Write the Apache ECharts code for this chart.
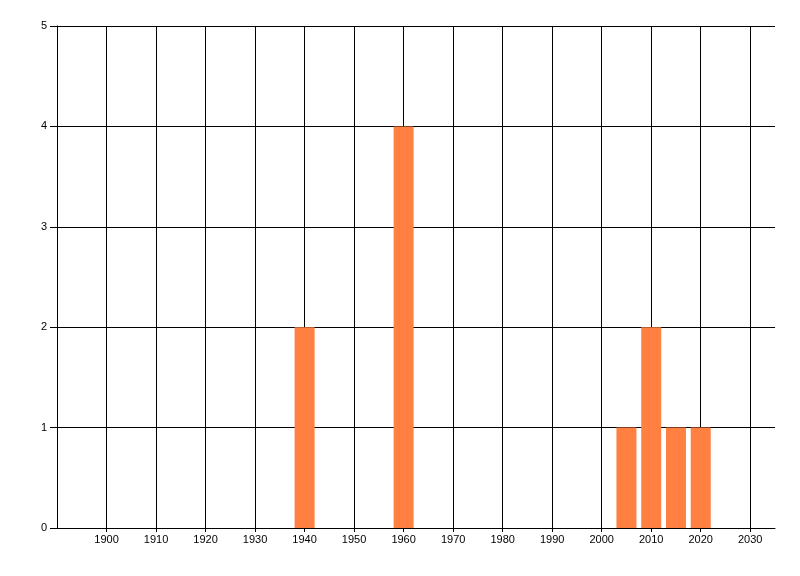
<!DOCTYPE html>
<html>
<head>
<meta charset="utf-8">
<script src="https://cdn.jsdelivr.net/npm/echarts@6/dist/echarts.min.js"></script>
<style>
  html, body { margin: 0; padding: 0; background: #fff; }
</style>
</head>
<body>
<div id="chart" style="width: 800px;height: 576px"></div>
<script>
const years = [1940, 1960, 2005, 2010, 2015, 2020]
const counts = [2, 4, 1, 2, 1, 1]
const yearTicks = [1900, 1910, 1920, 1930, 1940, 1950, 1960, 1970, 1980, 1990, 2000, 2010, 2020, 2030]

const chart = echarts.init(document.getElementById('chart'))
const option = {
  animation: false,
  grid: {
    left: 57,
    right: 25,
    top: 26,
    bottom: 48
  },
  xAxis: {
    type: 'value',
    min: 1890,
    max: 2035,
    interval: 10,
    axisLine: { show: true, lineStyle: { color: '#000', width: 1 } },
    axisTick: { show: true, length: 4, lineStyle: { color: '#000' }, customValues: yearTicks },
    axisLabel: {
      color: '#000',
      fontFamily: 'Liberation Sans',
      fontSize: 11,
      margin: 6,
      customValues: yearTicks,
      formatter: (v) => String(v)
    },
    splitLine: { show: true, showMinLine: true, showMaxLine: true, lineStyle: { color: '#000', width: 1 } }
  },
  yAxis: {
    type: 'value',
    min: 0,
    max: 5,
    interval: 1,
    axisLine: { show: true, lineStyle: { color: '#000', width: 1 } },
    axisTick: { show: true, length: 7, lineStyle: { color: '#000' } },
    axisLabel: {
      color: '#000',
      fontFamily: 'Liberation Sans',
      fontSize: 11,
      margin: 10
    },
    splitLine: { show: true, lineStyle: { color: '#000', width: 1 } }
  },
  series: [
    {
      type: 'bar',
      data: years.map((y, i) => [y, counts[i]]),
      barWidth: 20,
      itemStyle: { color: '#ff8040' }
    }
  ]
}
chart.setOption(option)
</script>
</body>
</html>
